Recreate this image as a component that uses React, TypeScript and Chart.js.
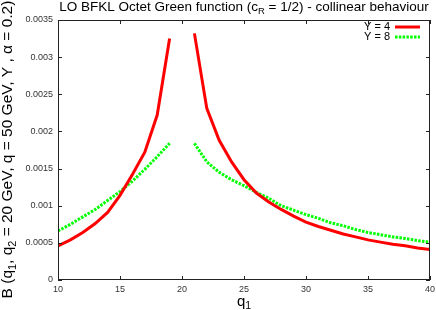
import React, { useEffect, useRef } from 'react';
import { Chart, registerables } from 'chart.js';

Chart.register(...registerables);

// ---- data ----
const qLeft = [10, 11, 12, 13, 14, 15, 16, 17, 18, 19];
const qRight = [21, 22, 23, 24, 25, 26, 27, 28, 29, 30, 31, 32, 33, 34, 35, 36, 37, 38, 39, 40];

const y4Left = [0.00046, 0.00054, 0.00064, 0.00076, 0.00091, 0.00114, 0.00142, 0.00172, 0.00222, 0.00325];
const y4Right = [0.00332, 0.00231, 0.00188, 0.00159, 0.00135, 0.00117, 0.00105, 0.00095, 0.00086, 0.00078,
  0.00072, 0.00067, 0.00062, 0.00058, 0.00054, 0.00051, 0.00048, 0.00046, 0.00043, 0.00041];

const y8Left = [0.00066, 0.00075, 0.00085, 0.00095, 0.00107, 0.00119, 0.00133, 0.00149, 0.00166, 0.00184];
const y8Right = [0.00184, 0.00159, 0.00145, 0.00135, 0.00127, 0.00118, 0.0011, 0.001, 0.00094, 0.00088,
  0.00083, 0.00077, 0.00073, 0.00068, 0.00064, 0.00061, 0.00058, 0.00056, 0.00053, 0.00051];

const seriesLabels = ['Y = 4', 'Y = 8'];
const seriesColors = ['#ff0000', '#00ff00'];

const xMin = 10, xMax = 40, xStep = 5;
const yMin = 0, yMax = 0.0035, yStep = 0.0005;

type Seg = { t: string; sub?: boolean };
const titleSegs: Seg[] = [
  { t: 'LO BFKL Octet Green function (c' }, { t: 'R', sub: true }, { t: ' = 1/2) - collinear behaviour' },
];
const yTitleSegs: Seg[] = [
  { t: 'B (q' }, { t: '1', sub: true }, { t: ', q' }, { t: '2', sub: true },
  { t: ' = 20 GeV, q = 50 GeV, Y , \u03b1 = 0.2)' },
];
const xTitleSegs: Seg[] = [{ t: 'q' }, { t: '1', sub: true }];

const FONT = '"Liberation Sans", Arial, Helvetica, sans-serif';

function buildPoints(xl: number[], yl: number[], xr: number[], yr: number[]) {
  const pts: { x: number; y: number | null }[] = [];
  xl.forEach((x, i) => pts.push({ x, y: yl[i] }));
  pts.push({ x: (xl[xl.length - 1] + xr[0]) / 2, y: null });
  xr.forEach((x, i) => pts.push({ x, y: yr[i] }));
  return pts;
}

function richWidth(ctx: CanvasRenderingContext2D, segs: Seg[], size: number) {
  let w = 0;
  for (const s of segs) {
    ctx.font = `${s.sub ? size * 0.7 : size}px ${FONT}`;
    w += ctx.measureText(s.t).width;
  }
  return w;
}

function drawRich(ctx: CanvasRenderingContext2D, segs: Seg[], cx: number, cy: number, size: number) {
  const w = richWidth(ctx, segs, size);
  let x = cx - w / 2;
  ctx.textAlign = 'left';
  ctx.textBaseline = 'middle';
  for (const s of segs) {
    const sz = s.sub ? size * 0.7 : size;
    ctx.font = `${sz}px ${FONT}`;
    ctx.fillText(s.t, x, cy + (s.sub ? size * 0.3 : 0));
    x += ctx.measureText(s.t).width;
  }
}

const decorPlugin = {
  id: 'decor',
  afterDraw(chart: any) {
    const ctx: CanvasRenderingContext2D = chart.ctx;
    const a = chart.chartArea;
    const xs = chart.scales.x;
    const ys = chart.scales.y;
    ctx.save();
    // frame
    ctx.strokeStyle = '#222';
    ctx.lineWidth = 1;
    ctx.strokeRect(Math.round(a.left) + 0.5, Math.round(a.top) + 0.5,
      Math.round(a.right - a.left) - 1, Math.round(a.bottom - a.top) - 1);
    // inward ticks
    const tl = 4;
    ctx.beginPath();
    xs.ticks.forEach((t: any) => {
      const px = Math.round(xs.getPixelForValue(t.value)) + 0.5;
      ctx.moveTo(px, a.bottom); ctx.lineTo(px, a.bottom - tl);
      ctx.moveTo(px, a.top); ctx.lineTo(px, a.top + tl);
    });
    ys.ticks.forEach((t: any) => {
      const py = Math.round(ys.getPixelForValue(t.value)) + 0.5;
      ctx.moveTo(a.left, py); ctx.lineTo(a.left + tl, py);
      ctx.moveTo(a.right, py); ctx.lineTo(a.right - tl, py);
    });
    ctx.stroke();

    ctx.fillStyle = '#000';
    // title
    drawRich(ctx, titleSegs, (a.left + a.right) / 2, 7.5, 13.5);
    // x title
    drawRich(ctx, xTitleSegs, (a.left + a.right) / 2, 302, 15);
    // y title
    ctx.save();
    ctx.translate(8, 149.5);
    ctx.rotate(-Math.PI / 2);
    drawRich(ctx, yTitleSegs, 0, 0, 15.5);
    ctx.restore();

    // legend
    chart.data.datasets.forEach((ds: any, i: number) => {
      const ly = 27 + i * 10;
      ctx.font = `11px ${FONT}`;
      ctx.textAlign = 'right';
      ctx.textBaseline = 'middle';
      ctx.fillStyle = '#000';
      ctx.fillText(ds.label, 390, ly);
      ctx.strokeStyle = ds.borderColor;
      ctx.lineWidth = ds.borderWidth;
      ctx.setLineDash(ds.borderDash || []);
      ctx.beginPath();
      ctx.moveTo(395, ly);
      ctx.lineTo(420, ly);
      ctx.stroke();
      ctx.setLineDash([]);
    });
    ctx.restore();
  },
};

export default function App() {
  const ref = useRef<HTMLCanvasElement>(null);
  useEffect(() => {
    document.body.style.margin = '0';
    const chart = new Chart(ref.current!, {
      type: 'line',
      data: {
        datasets: [
          {
            label: seriesLabels[0],
            data: buildPoints(qLeft, y4Left, qRight, y4Right),
            borderColor: seriesColors[0],
            borderWidth: 3,
            pointRadius: 0,
            spanGaps: false,
            tension: 0,
          },
          {
            label: seriesLabels[1],
            data: buildPoints(qLeft, y8Left, qRight, y8Right),
            borderColor: seriesColors[1],
            borderWidth: 3,
            borderDash: [2.5, 1.3],
            pointRadius: 0,
            spanGaps: false,
            tension: 0,
          },
        ],
      },
      options: {
        animation: false,
        responsive: false,
        layout: { autoPadding: false, padding: { left: 0, right: 6, top: 20, bottom: 0 } },
        plugins: { legend: { display: false }, title: { display: false }, tooltip: { enabled: false } },
        scales: {
          x: {
            type: 'linear',
            min: xMin,
            max: xMax,
            grid: { display: false, drawTicks: false },
            border: { display: false },
            ticks: {
              stepSize: xStep,
              padding: 4,
              color: '#333',
              font: { family: FONT, size: 9 },
              maxRotation: 0,
            },
            afterFit: (s: any) => { s.height = 30; s.paddingLeft = 0; s.paddingRight = 0; },
          },
          y: {
            type: 'linear',
            min: yMin,
            max: yMax,
            grid: { display: false, drawTicks: false },
            border: { display: false },
            ticks: {
              stepSize: yStep,
              padding: 5,
              color: '#333',
              font: { family: FONT, size: 9 },
              callback: (v: any) => String(Number(Number(v).toFixed(4))),
            },
            afterFit: (s: any) => { s.width = 58; s.paddingTop = 0; s.paddingBottom = 0; },
          },
        },
      },
      plugins: [decorPlugin],
    });
    return () => chart.destroy();
  }, []);
  return (
    <div style={{ position: 'relative', width: 436, height: 310 }}>
      <canvas ref={ref} width={436} height={310} />
    </div>
  );
}
